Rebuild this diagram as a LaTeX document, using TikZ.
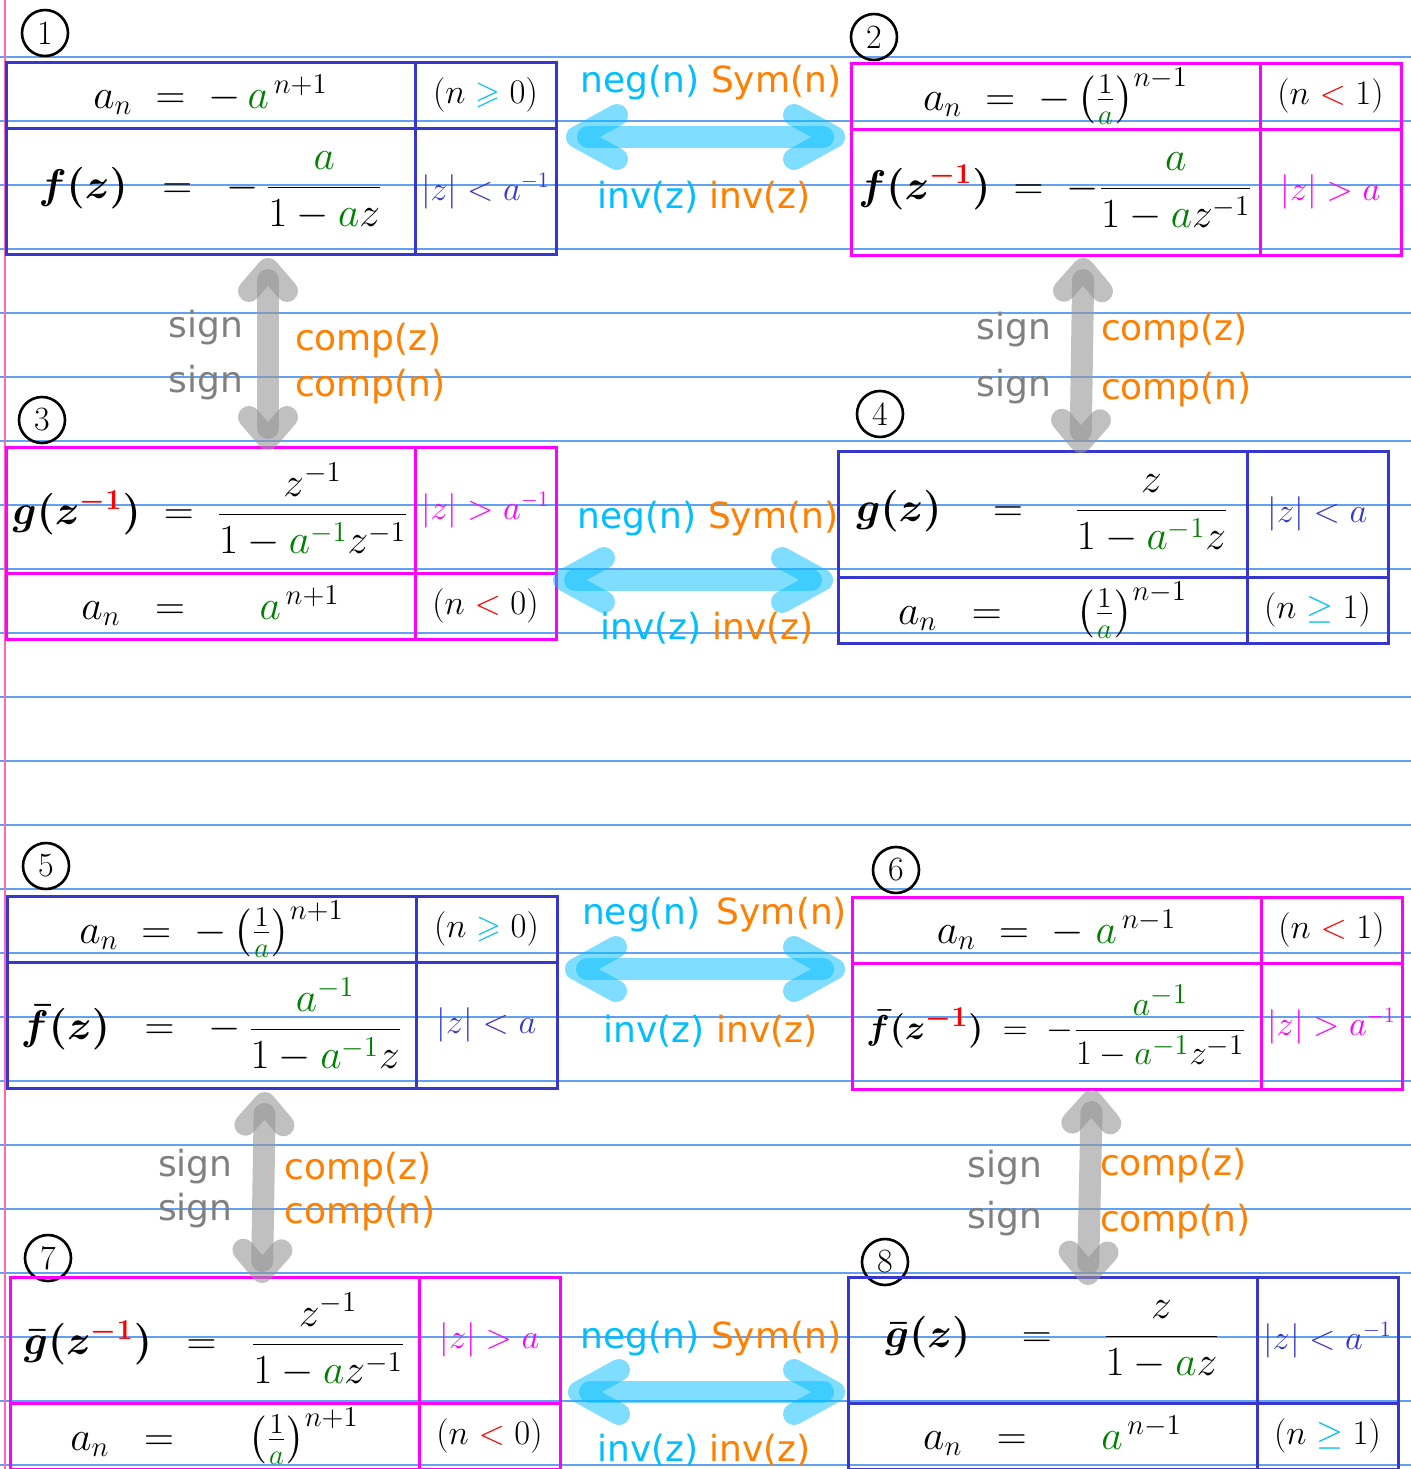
\documentclass[tikz,border=0pt]{standalone}
\usepackage{amsmath,amssymb}
\usepackage{fontspec}
\newfontfamily\notefont{DejaVu Sans}
\usetikzlibrary{arrows.meta,positioning}
\definecolor{boxBlue}{RGB}{55,55,205}
\definecolor{boxPink}{RGB}{255,0,255}
\definecolor{skyCyan}{RGB}{0,190,255}
\definecolor{noteOrange}{RGB}{255,128,0}
\definecolor{signGray}{RGB}{128,128,128}
\definecolor{arrowGray}{RGB}{150,150,150}
\definecolor{aGreen}{RGB}{0,128,0}
\definecolor{paperBlue}{RGB}{100,160,240}
\definecolor{marginPink}{RGB}{255,105,180}
\newcommand{\aG}{{\color{aGreen}a}}
\newcommand{\aGinv}{{\color{aGreen}a^{-1}}}
\newcommand{\rinv}{{\color{red}-1}}
\newcommand{\geqC}{\mathrel{\color{skyCyan}\geqslant}}
\newcommand{\geC}{\mathrel{\color{skyCyan}\geq}}
\newcommand{\ltR}{\mathrel{\color{red}<}}
\tikzset{cell/.style={draw, line width=1.5pt, outer sep=0pt, inner sep=0pt, align=flush center, font=\fontsize{20}{24}\selectfont}}
\tikzset{eqcell/.style={cell, text width=204.5pt, minimum width=204.5pt, minimum height=33pt}}
\tikzset{condcell/.style={cell, text width=70.5pt, minimum width=70.5pt, minimum height=33pt, font=\fontsize{16}{20}\selectfont}}
\tikzset{bigeqcell/.style={eqcell, minimum height=63pt}}
\tikzset{bigcondcell/.style={condcell, minimum height=63pt}}
\tikzset{bluebox/.style={draw=boxBlue}, pinkbox/.style={draw=boxPink}}
\tikzset{numcircle/.style={circle, draw, line width=1.3pt, minimum size=23pt, inner sep=0pt, font=\fontsize{17}{17}\selectfont}}
\tikzset{notetext/.style={font=\notefont\fontsize{18}{22}\selectfont, inner sep=0pt, outer sep=0pt}}
\tikzset{paperline/.style={draw=paperBlue, line width=.75pt}, marginline/.style={draw=marginPink, line width=.75pt}}
\tikzset{swaparrow/.style={draw=skyCyan, draw opacity=.5, line width=11pt, line cap=round, {Straight Barb[round, length=20pt, width=22pt]}-{Straight Barb[round, length=20pt, width=22pt]}}}
\tikzset{flipArrow/.style={swaparrow, draw=arrowGray, draw opacity=.6, {Straight Barb[round, length=11pt, width=19pt]}-{Straight Barb[round, length=11pt, width=19pt]}}}

\begin{document}
\begin{tikzpicture}[x=0.5pt, y=-0.5pt, node distance=0pt]
	\pgfdeclarelayer{background}
	\pgfsetlayers{background,main}

	\useasboundingbox (0,0) rectangle (1411,1469);

	% Paper
	\begin{pgfonlayer}{background}
		\fill[white] (0,0) rectangle (1411,1469);
		\foreach \k in {0,...,22}
			\draw[paperline] (0,{57+64*\k}) -- (1411,{57+64*\k});
		\draw[marginline] (5,0) -- (5,1469);
	\end{pgfonlayer}

	% Nodes
		\node (n1) [numcircle] at (45,33) {1};
		\node (p1a) [eqcell, bluebox, anchor=north west] at (6,62) {$a_n \;=\; -\,\aG^{\,n+1}$};
		\node (p1b) [condcell, bluebox, right=of p1a] {$(n \geqC 0)$};
		\node (p1c) [bigeqcell, bluebox, below=of p1a] {$\boldsymbol{f(z)} \;\;=\;\; -\,\dfrac{\aG}{1-\aG z}$};
		\node (p1d) [bigcondcell, bluebox, right=of p1c] {\color{boxBlue}$|z|<a^{-1}$};

		\node (n2) [numcircle] at (874,37) {2};
		\node (p2a) [eqcell, pinkbox, anchor=north west] at (851,63) {$a_n \;=\; -\left(\frac{1}{\aG}\right)^{n-1}$};
		\node (p2b) [condcell, pinkbox, right=of p2a] {$(n \ltR 1)$};
		\node (p2c) [bigeqcell, pinkbox, below=of p2a] {$\boldsymbol{f(z^{\rinv})} \;=\; -\dfrac{\aG}{1-\aG z^{-1}}$};
		\node (p2d) [bigcondcell, pinkbox, right=of p2c] {\color{boxPink}$|z|>a$};

		\node (n3) [numcircle] at (42,420) {3};
		\node (p3a) [bigeqcell, pinkbox, anchor=north west] at (6,447) {$\boldsymbol{g(z^{\rinv})} \;=\; \dfrac{z^{-1}}{1-\aGinv z^{-1}}$};
		\node (p3b) [bigcondcell, pinkbox, right=of p3a] {\color{boxPink}$|z|>a^{-1}$};
		\node (p3c) [eqcell, pinkbox, below=of p3a] {$a_n \;\;=\;\;\quad \aG^{\,n+1}$};
		\node (p3d) [condcell, pinkbox, right=of p3c] {$(n \ltR 0)$};

		\node (n4) [numcircle] at (880,414) {4};
		\node (p4a) [bigeqcell, bluebox, anchor=north west] at (838,451) {$\boldsymbol{g(z)} \quad=\quad \dfrac{z}{1-\aGinv z}$};
		\node (p4b) [bigcondcell, bluebox, right=of p4a] {\color{boxBlue}$|z|<a$};
		\node (p4c) [eqcell, bluebox, below=of p4a] {$a_n \;\;=\;\;\quad \left(\frac{1}{\aG}\right)^{n-1}$};
		\node (p4d) [condcell, bluebox, right=of p4c] {$(n \geC 1)$};

		\node (n5) [numcircle] at (46,866) {5};
		\node (p5a) [eqcell, bluebox, anchor=north west] at (7,896) {$a_n \;=\; -\left(\frac{1}{\aG}\right)^{n+1}$};
		\node (p5b) [condcell, bluebox, right=of p5a] {$(n \geqC 0)$};
		\node (p5c) [bigeqcell, bluebox, below=of p5a] {$\boldsymbol{\bar{f}(z)} \;\;=\;\; -\,\dfrac{\aGinv}{1-\aGinv z}$};
		\node (p5d) [bigcondcell, bluebox, right=of p5c] {\color{boxBlue}$|z|<a$};

		\node (n6) [numcircle] at (896,870) {6};
		\node (p6a) [eqcell, pinkbox, anchor=north west] at (852,897) {$a_n \;=\; -\;\aG^{\,n-1}$};
		\node (p6b) [condcell, pinkbox, right=of p6a] {$(n \ltR 1)$};
		\node (p6c) [bigeqcell, pinkbox, below=of p6a, font=\fontsize{19}{23}\selectfont] {$\boldsymbol{\bar{f}(z^{\rinv})} \;=\; -\dfrac{\aGinv}{1-\aGinv z^{-1}}$};
		\node (p6d) [bigcondcell, pinkbox, right=of p6c] {\color{boxPink}$|z|>a^{-1}$};

		\node (n7) [numcircle] at (48,1258) {7};
		\node (p7a) [bigeqcell, pinkbox, anchor=north west] at (10,1277) {$\boldsymbol{\bar{g}(z^{\rinv})} \;\;=\;\; \dfrac{z^{-1}}{1-\aG z^{-1}}$};
		\node (p7b) [bigcondcell, pinkbox, right=of p7a] {\color{boxPink}$|z|>a$};
		\node (p7c) [eqcell, pinkbox, below=of p7a] {$a_n \;\;=\;\;\quad \left(\frac{1}{\aG}\right)^{n+1}$};
		\node (p7d) [condcell, pinkbox, right=of p7c] {$(n \ltR 0)$};

		\node (n8) [numcircle] at (885,1262) {8};
		\node (p8a) [bigeqcell, bluebox, anchor=north west] at (848,1277) {$\boldsymbol{\bar{g}(z)} \quad=\quad \dfrac{z}{1-\aG z}$};
		\node (p8b) [bigcondcell, bluebox, right=of p8a] {\color{boxBlue}$|z|<a^{-1}$};
		\node (p8c) [eqcell, bluebox, below=of p8a] {$a_n \;\;=\;\;\quad \aG^{\,n-1}$};
		\node (p8d) [condcell, bluebox, right=of p8c] {$(n \geC 1)$};

	% Connectors
	\begin{scope}
		\coordinate (s12) at ([yshift=-4.5pt]p1d.north east);
		\draw[swaparrow, shorten <=5pt, shorten >=3pt] (s12) -- (s12 -| p2c.west)
			node[notetext, midway, xshift=3.75pt, yshift=27pt] {\color{skyCyan}neg(n) \color{noteOrange}Sym(n)}
			node[notetext, midway, xshift=0.25pt, yshift=-30pt] {\color{skyCyan}inv(z) \color{noteOrange}inv(z)};

		\coordinate (s34) at ([yshift=-3.5pt]p3d.north east);
		\draw[swaparrow, shorten <=-1.5pt, shorten >=2.5pt] (s34) -- (s34 -| p4c.west)
			node[notetext, midway, xshift=5.5pt, yshift=30.5pt] {\color{skyCyan}neg(n) \color{noteOrange}Sym(n)}
			node[notetext, midway, xshift=5pt, yshift=-24pt] {\color{skyCyan}inv(z) \color{noteOrange}inv(z)};

		\coordinate (s56) at ([yshift=-3.5pt]p5d.north east);
		\draw[swaparrow, shorten <=4pt, shorten >=3.5pt] (s56) -- (s56 -| p6c.west)
			node[notetext, midway, xshift=5pt, yshift=27pt] {\color{skyCyan}neg(n)\hspace{8pt}\color{noteOrange}Sym(n)}
			node[notetext, midway, xshift=3pt, yshift=-31pt] {\color{skyCyan}inv(z) \color{noteOrange}inv(z)};

		\coordinate (s78) at ([yshift=5.5pt]p7d.north east);
		\draw[swaparrow, shorten <=4pt, shorten >=1.5pt] (s78) -- (s78 -| p8c.west)
			node[notetext, midway, xshift=3.5pt, yshift=26.5pt] {\color{skyCyan}neg(n) \color{noteOrange}Sym(n)}
			node[notetext, midway, yshift=-29pt] {\color{skyCyan}inv(z) \color{noteOrange}inv(z)};

		\draw[flipArrow, shorten <=2pt, shorten >=-1.5pt] ([xshift=28.75pt]p1c.south) -- ([xshift=28.75pt]p3a.north)
			node[notetext, midway, left, xshift=-12.5pt, yshift=-2.5pt, align=right, text=signGray] {sign\\[5.5pt]sign}
			node[notetext, midway, right, xshift=13.5pt, yshift=-6.5pt, align=left, text=noteOrange] {comp(z)\\[1pt]comp(n)};

		\draw[flipArrow, shorten <=1.5pt, shorten >=-1pt] ([xshift=14pt]p2c.south) -- ([xshift=19pt]p4a.north)
			node[notetext, midway, left, xshift=-15.5pt, yshift=-2.5pt, align=right, text=signGray] {sign\\[6.5pt]sign}
			node[notetext, midway, right, xshift=9.5pt, yshift=-3.5pt, align=left, text=noteOrange] {comp(z)\\[7.5pt]comp(n)};

		\draw[flipArrow, shorten <=2pt, shorten >=-3pt] ([xshift=26.75pt]p5c.south) -- ([xshift=23.75pt]p7a.north)
			node[notetext, midway, left, xshift=-15.5pt, yshift=-3pt, align=right, text=signGray] {sign\\[0pt]sign}
			node[notetext, midway, right, xshift=10.5pt, yshift=-4.75pt, align=left, text=noteOrange] {comp(z)\\[0pt]comp(n)};

		\draw[flipArrow, shorten <=0.5pt, shorten >=-4pt] ([xshift=17.75pt]p6c.south) -- ([xshift=17.75pt]p8a.north)
			node[notetext, midway, left, xshift=-24pt, yshift=-5pt, align=right, text=signGray] {sign\\[3.5pt]sign}
			node[notetext, midway, right, xshift=5pt, yshift=-5.5pt, align=left, text=noteOrange] {comp(z)\\[6pt]comp(n)};
	\end{scope}

\end{tikzpicture}
\end{document}
